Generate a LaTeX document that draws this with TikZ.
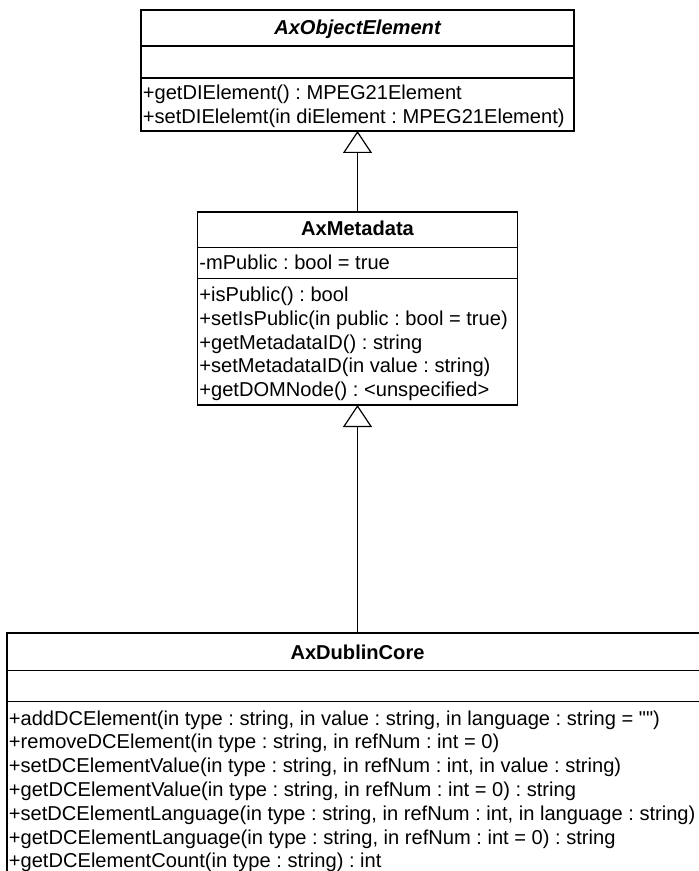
\documentclass[tikz,border=0pt]{standalone}
\usepackage{fontspec}
\setmainfont{Liberation Sans}
\usetikzlibrary{arrows.meta}
\frenchspacing
\begin{document}
\begin{tikzpicture}[x=0.5pt,y=-0.5pt,
  umlbox/.style={draw, line width=0.9pt, inner sep=0pt, outer sep=0pt, anchor=north west},
  divider/.style={line width=0.9pt},
  member/.style={anchor=base west, inner sep=0pt, font=\fontsize{10.05}{12}\selectfont},
  classname/.style={anchor=base, inner sep=0pt, font=\fontsize{10.05}{12}\selectfont\bfseries},
  inherit/.style={line width=0.6pt, -{Triangle[open, length=11pt, width=14.5pt]}}]
  \clip (0,0) rectangle (699,871);
  \useasboundingbox (0,0) rectangle (699,871);

  % class boxes
  \node[umlbox, minimum width=216.5pt, minimum height=60.5pt] (obj) at (141,10) {};
  \node[umlbox, minimum width=160pt, minimum height=96.5pt] (meta) at (197.5,212) {};
  \node[umlbox, minimum width=350.5pt, minimum height=130pt] (dc) at (7,633) {};

  % compartment dividers
  \draw[divider] (141,46) -- (574,46);
  \draw[divider] (141,78) -- (574,78);
  \draw[divider] (197.5,247.5) -- (517.5,247.5);
  \draw[divider] (197.5,278.5) -- (517.5,278.5);
  \draw[divider] (7,670.5) -- (708,670.5);
  \draw[divider] (7,701.5) -- (708,701.5);

  % AxObjectElement
  \node[classname, font=\fontsize{10.05}{12}\selectfont\bfseries\itshape] (objname) at (357.5,35) {AxObjectElement};
  \node[member] (obj1) at (142.5,99.7) {+getDIElement() : MPEG21Element};
  \node[member] (obj2) at (142.5,123.5) {+setDIElelemt(in diElement : MPEG21Element)};

  % AxMetadata
  \node[classname] (metaname) at (357.5,236) {AxMetadata};
  \node[member] (metaattr) at (199,269.5) {-mPublic : bool = true};
  \node[member] (meta1) at (199,301.5) {+isPublic() : bool};
  \node[member] (meta2) at (199,325.3) {+setIsPublic(in public : bool = true)};
  \node[member] (meta3) at (199,349.1) {+getMetadataID() : string};
  \node[member] (meta4) at (199,372.9) {+setMetadataID(in value : string)};
  \node[member] (meta5) at (199,396.7) {+getDOMNode() : <unspecified>};

  % AxDublinCore
  \node[classname] (dcname) at (357.5,659.5) {AxDublinCore};
  \node[member] (dc1) at (8.5,725) {+addDCElement(in type : string, in value : string, in language : string = \textquotedbl\textquotedbl)};
  \node[member] (dc2) at (8.5,748.8) {+removeDCElement(in type : string, in refNum : int = 0)};
  \node[member] (dc3) at (8.5,772.6) {+setDCElementValue(in type : string, in refNum : int, in value : string)};
  \node[member] (dc4) at (8.5,796.4) {+getDCElementValue(in type : string, in refNum : int = 0) : string};
  \node[member] (dc5) at (8.5,820.2) {+setDCElementLanguage(in type : string, in refNum : int, in language : string)};
  \node[member] (dc6) at (8.5,844) {+getDCElementLanguage(in type : string, in refNum : int = 0) : string};
  \node[member] (dc7) at (8.5,867.8) {+getDCElementCount(in type : string) : int};

  % generalizations
  \draw[inherit] (meta.north) -- (obj.south);
  \draw[inherit] (dc.north) -- (meta.south);
\end{tikzpicture}
\end{document}
